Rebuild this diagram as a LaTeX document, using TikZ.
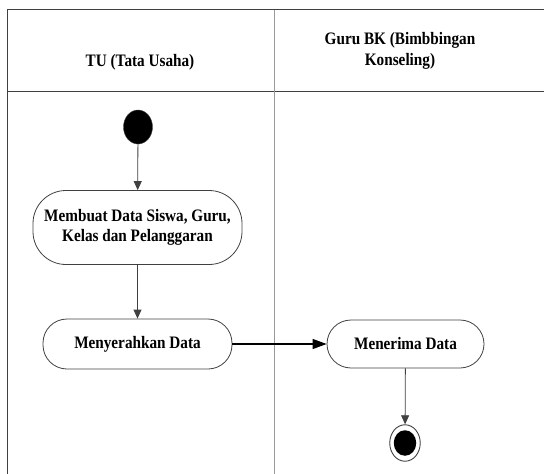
\documentclass[tikz,border=0pt]{standalone}
\usepackage{amsmath}
\usepackage{fontspec}
\setmainfont{Liberation Serif}[FakeStretch=0.87]
\usetikzlibrary{shapes.geometric,arrows.meta}

\tikzset{
	lane/.style={line width=0.9pt, draw=black!75},
	act/.style={draw=black!75, line width=0.8pt, rounded corners=24pt, align=center, inner sep=0pt,
		font=\fontsize{17.5}{20.5}\selectfont\bfseries},
	flow/.style={draw=black!75, line width=0.8pt, -{Triangle[length=9pt,width=8pt]}},
	hdr/.style={align=center, font=\fontsize{17.5}{20.5}\selectfont\bfseries}
}

\begin{document}
\begin{tikzpicture}[x=1pt, y=-1pt]
	\useasboundingbox (0,0) rectangle (544,474);
\draw[lane] (544, 9.5) -- (7, 9.5) -- (7, 474) ; % frame
\draw[lane] (7, 91) -- (544, 91) ; % header
\draw[lane, draw=black!40] (274, 9.5) -- (274, 474) ; % divider
\node[hdr] (tu) at (140, 62) {TU (Tata Usaha)} ;
\node[hdr] (bk) at (400, 51) {Guru BK (Bimbbingan\\Konseling)} ;
\node[ellipse, fill=black, draw=black!75, minimum width=29pt, minimum height=34pt, inner sep=0pt] (start) at (138, 127) {} ; % start
\node[act, minimum width=209pt, minimum height=74pt, rounded corners=33pt] (buat) at (137.5, 227.5) {Membuat Data Siswa, Guru,\\Kelas dan Pelanggaran} ;
\node[act, minimum width=189pt, minimum height=50pt] (serah) at (137.5, 344) {Menyerahkan Data} ;
\node[act, minimum width=157pt, minimum height=48pt] (terima) at (405.5, 344) {Menerima Data} ;
\node[ellipse, fill=white, draw=black!75, line width=0.9pt, minimum width=30.5pt, minimum height=36.5pt, inner sep=0pt] (end) at (405, 443) {} ; % end
\node[ellipse, fill=black, minimum width=22.5pt, minimum height=25.5pt, inner sep=0pt] (endin) at (405, 443) {} ;
\draw[flow] (start) -- (buat) ;
\draw[flow] (buat) -- (serah) ;
\draw[flow, draw=black, line width=1.2pt, -{Triangle[length=14pt,width=10pt]}] (serah) -- (terima) ;
\draw[flow] (terima) -- (end) ;
	\end{tikzpicture}
\end{document}
